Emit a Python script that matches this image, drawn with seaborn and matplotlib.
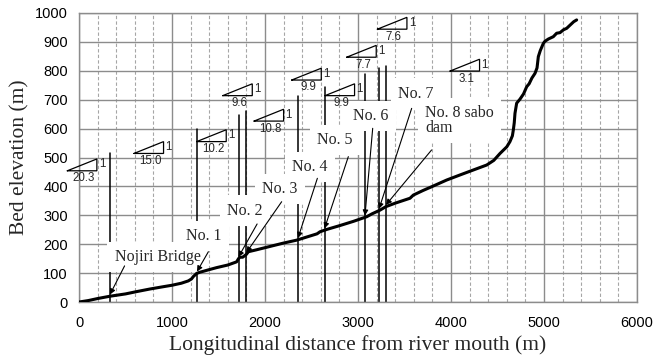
import numpy as np
import pandas as pd
import matplotlib
matplotlib.use("Agg")
import matplotlib.pyplot as plt
from matplotlib.ticker import MultipleLocator
import seaborn as sns

# Longitudinal bed profile of the river
distance_m = [0, 100, 200, 333, 500, 620, 763, 907, 1000, 1100, 1175, 1210, 1229,
              1265, 1300, 1400, 1480, 1600, 1695, 1715, 1731, 1760, 1800, 1821,
              1900, 2000, 2100, 2200, 2340, 2450, 2560, 2591, 2663, 2800, 2950,
              3093, 3150, 3237, 3300, 3400, 3559, 3595, 3700, 3800, 3953, 4100,
              4250, 4384, 4460, 4527, 4600, 4634, 4660, 4670, 4680, 4688, 4706,
              4742, 4780, 4814, 4840, 4870, 4903, 4925, 4939, 4960, 4993, 5010,
              5047, 5100, 5136, 5172, 5210, 5244, 5280, 5320, 5351]
elevation_m = [0, 5, 12, 20, 28, 36, 45, 53, 58, 65, 73, 80, 88,
               99, 103, 112, 119, 128, 139, 150, 155, 155, 165, 174,
               180, 188, 196, 204, 214, 225, 236, 243, 251, 264, 279,
               295, 305, 318, 330, 342, 359, 370, 386, 400, 422, 440,
               458, 474, 490, 514, 537, 555, 575, 595, 620, 653, 688,
               702, 720, 745, 755, 775, 791, 810, 849, 870, 895, 902,
               910, 918, 930, 932, 942, 947, 958, 970, 976]

# Structures along the reach (bridge and check dams)
structure_names = ["Nojiri Bridge", "No. 1", "No. 2", "No. 3", "No. 4",
                   "No. 5", "No. 6", "No. 7", "No. 8 sabo\ndam"]
structure_x = [333, 1269, 1715, 1800, 2355, 2640, 3075, 3226, 3301]
marker_top = [515, 600, 647, 661, 713, 744, 790, 808, 818]

# Mean bed slope (1 : n) of each sub-reach
slope_ratio = ["20.3", "15.0", "10.2", "9.6", "10.8", "9.9", "9.9", "7.7", "7.6", "3.1"]

# Layout: label positions, arrow starts, slope-triangle anchors
label_pos = [(844, 156), (1344, 228), (1782, 316), (2161, 392), (2484, 468),
             (2753, 560), (3138, 644), (3622, 721), (3720, 682)]
arrow_from = [(490, 125), (1391, 174), (1915, 270), (2179, 347), (2563, 428),
              (2896, 503), (3158, 601), (3577, 670), (3791, 526)]
tri_anchor = [(-126, 454), (591, 514), (1265, 555), (1545, 714), (1882, 626),
              (2287, 768), (2645, 714), (2878, 847), (3208, 944), (3989, 799)]
TRI_W, TRI_H = 318, 41

sns.set_theme(style="white")
plt.rcParams["font.family"] = ["Liberation Sans", "DejaVu Sans"]
SERIF = ["Liberation Serif", "DejaVu Serif"]

fig = plt.figure(figsize=(6.53, 3.58), dpi=100)
ax = fig.add_axes([0.121, 0.1564, 0.8545, 0.8073])

profile = pd.DataFrame({"distance": distance_m, "elevation": elevation_m})
sns.lineplot(data=profile, x="distance", y="elevation", ax=ax,
             color="black", lw=2.2, zorder=6, sort=False)

# structure marker lines
for xs, top in zip(structure_x, marker_top):
    ax.plot([xs, xs], [0, top], color="black", lw=1.1, zorder=2)

# labels with white boxes and arrows down to the bed
for name, (tx, ty), (ax0, ay0), xs in zip(structure_names, label_pos, arrow_from, structure_x):
    if "\n" in name:
        ax.text(tx, ty, name, family=SERIF, fontsize=11.5, ha="left", va="top",
                linespacing=0.95, zorder=3,
                bbox=dict(boxstyle="square,pad=0.45", fc="white", ec="none"))
    else:
        ax.text(tx, ty, name, family=SERIF, fontsize=11.5, ha="center", va="center",
                zorder=3, bbox=dict(boxstyle="square,pad=0.45", fc="white", ec="none"))
    tip_y = float(np.interp(xs, distance_m, elevation_m)) + 6
    ax.annotate("", xy=(xs, tip_y), xytext=(ax0, ay0), zorder=4,
                arrowprops=dict(arrowstyle="-|>", color="black", lw=0.8,
                                mutation_scale=8, shrinkA=0, shrinkB=0))

# slope triangles
for r, (x0, y0) in zip(slope_ratio, tri_anchor):
    ax.plot([x0, x0 + TRI_W, x0 + TRI_W, x0], [y0, y0, y0 + TRI_H, y0],
            color="black", lw=0.9, zorder=4, clip_on=False, solid_joinstyle="miter")
    ax.text(x0 + TRI_W * 0.56, y0 - 5, r, fontsize=8.3, ha="center", va="top", zorder=4)
    ax.text(x0 + TRI_W + 20, y0 + TRI_H * 0.55, "1", fontsize=8.3, ha="left",
            va="center", zorder=4)

ax.set_xlim(0, 6000)
ax.set_ylim(0, 1000)
ax.xaxis.set_major_locator(MultipleLocator(1000))
ax.xaxis.set_minor_locator(MultipleLocator(200))
ax.yaxis.set_major_locator(MultipleLocator(100))
ax.grid(which="major", axis="both", color="#8c8c8c", lw=1.0, ls="-", zorder=0)
ax.grid(which="minor", axis="x", color="#a6a6a6", lw=0.8, ls=(0, (3, 2)), zorder=0)
ax.set_axisbelow(True)

for s in ax.spines.values():
    s.set_color("#8c8c8c")
    s.set_linewidth(1.0)

ax.tick_params(axis="both", which="major", direction="out", length=4, width=0.8,
               color="#8c8c8c", labelsize=10.5, labelcolor="black", pad=4)
ax.tick_params(axis="x", which="minor", length=0)
ax.tick_params(axis="x", which="major", pad=6)

ax.set_xlabel("Longitudinal distance from river mouth (m)", family=SERIF,
              fontsize=15.5, labelpad=4)
ax.set_ylabel("Bed elevation (m)", family=SERIF, fontsize=15.5, labelpad=4)

fig.savefig("out.png", dpi=100)
